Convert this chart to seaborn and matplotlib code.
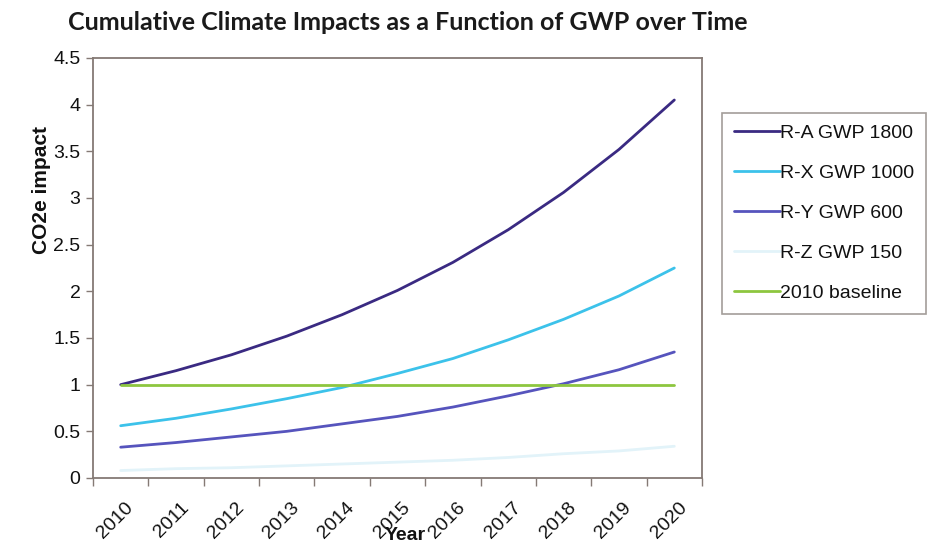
import matplotlib
matplotlib.use("Agg")
import matplotlib.pyplot as plt
import matplotlib.transforms as mtransforms
import numpy as np
import pandas as pd
import seaborn as sns

# Yearly cumulative CO2e impact per refrigerant (relative to the 2010 R-A level)
years = [2010, 2011, 2012, 2013, 2014, 2015, 2016, 2017, 2018, 2019, 2020]
ra_gwp_1800 = [1.00, 1.15, 1.32, 1.52, 1.75, 2.01, 2.31, 2.66, 3.06, 3.52, 4.05]
rx_gwp_1000 = [0.56, 0.64, 0.74, 0.85, 0.97, 1.12, 1.28, 1.48, 1.70, 1.95, 2.25]
ry_gwp_600 = [0.33, 0.38, 0.44, 0.50, 0.58, 0.66, 0.76, 0.88, 1.01, 1.16, 1.35]
rz_gwp_150 = [0.08, 0.10, 0.11, 0.13, 0.15, 0.17, 0.19, 0.22, 0.26, 0.29, 0.34]
baseline_2010 = [1.0, 1.0, 1.0, 1.0, 1.0, 1.0, 1.0, 1.0, 1.0, 1.0, 1.0]

series_names = ["R-A GWP 1800", "R-X GWP 1000", "R-Y GWP 600", "R-Z GWP 150", "2010 baseline"]
series_values = [ra_gwp_1800, rx_gwp_1000, ry_gwp_600, rz_gwp_150, baseline_2010]
series_colors = ["#3a2a82", "#3cc2ea", "#5654bd", "#e2f3f9", "#8dc63f"]

y_ticks = [0, 0.5, 1, 1.5, 2, 2.5, 3, 3.5, 4, 4.5]
y_tick_labels = ["0", "0.5", "1", "1.5", "2", "2.5", "3", "3.5", "4", "4.5"]

df = pd.DataFrame(
    [(y, v, name) for name, vals in zip(series_names, series_values) for y, v in zip(years, vals)],
    columns=["Year", "CO2e impact", "Series"],
)

sns.set_theme(style="white")
plt.rcParams["font.family"] = ["Liberation Sans", "DejaVu Sans"]

fig = plt.figure(figsize=(9.32, 5.46), dpi=100)
ax = fig.add_axes([93 / 932, 1 - 478 / 546, (702 - 93) / 932, (478 - 58) / 546])

sns.lineplot(
    data=df, x="Year", y="CO2e impact", hue="Series", hue_order=series_names,
    palette=dict(zip(series_names, series_colors)), linewidth=2.0, ax=ax,
)

frame_color = "#857a75"
for sp in ax.spines.values():
    sp.set_color(frame_color)
    sp.set_linewidth(1.3)

ax.set_xlim(years[0] - 0.5, years[-1] + 0.5)
ax.set_ylim(0, 4.5)
ax.set_yticks(y_ticks)
ax.set_yticklabels(y_tick_labels)
ax.tick_params(axis="y", which="major", direction="out", length=5, width=1,
               color=frame_color, labelsize=14, pad=4, left=True, labelcolor="#111111")

# Category labels at centres, tick marks on category boundaries
ax.set_xticks(years)
ax.set_xticklabels([str(y) for y in years])
ax.set_xticks(np.arange(years[0] - 0.5, years[-1] + 1.0, 1.0), minor=True)
ax.tick_params(axis="x", which="major", length=0, labelsize=14, pad=15, labelcolor="#111111")
ax.tick_params(axis="x", which="minor", direction="out", length=6, width=1,
               color=frame_color, bottom=True)
shift = mtransforms.ScaledTranslation(4 / 100, 0, fig.dpi_scale_trans)
for lab in ax.get_xticklabels():
    lab.set_rotation(45)
    lab.set_ha("right")
    lab.set_va("top")
    lab.set_rotation_mode("anchor")
    lab.set_transform(lab.get_transform() + shift)

ax.set_xlabel("")
ax.set_ylabel("CO2e impact", fontsize=15, fontweight="bold", color="#111111")
ax.yaxis.set_label_coords(-42 / 609, (478 - 190) / 420)

fig.text(405 / 932, 1 - 536 / 546, "Year", ha="center", va="center",
         fontsize=14, fontweight="bold", color="#111111")

fig.text(408 / 932, 1 - 23 / 546, "Cumulative Climate Impacts as a Function of GWP over Time",
         ha="center", va="center", fontsize=18, fontweight="bold", color="#1a1a1a",
         family=["Lato", "DejaVu Sans"])

handles, labels = ax.get_legend_handles_labels()
leg = ax.legend(
    handles, labels, loc="upper left",
    bbox_to_anchor=(722 / 932, 1 - 113 / 546), bbox_transform=fig.transFigure,
    borderaxespad=0, fontsize=14, frameon=True, fancybox=False, shadow=False,
    handlelength=2.4, handletextpad=0.0, labelspacing=1.15, borderpad=0.6,
)
leg.get_frame().set_edgecolor("#8c8580")
leg.get_frame().set_linewidth(1.2)
for t in leg.get_texts():
    t.set_color("#111111")

fig.savefig("out.png", dpi=100)
